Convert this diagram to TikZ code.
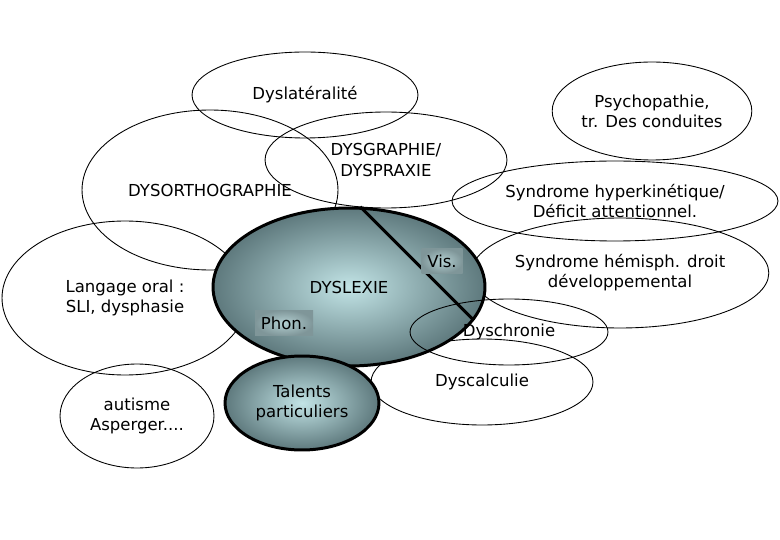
\documentclass[tikz,border=0pt]{standalone}
\usepackage{fontspec}
\setmainfont{DejaVu Sans}
\usetikzlibrary{shapes.geometric}
\definecolor{coreout}{HTML}{5E797D}
\definecolor{corein}{HTML}{C2E4E6}
\definecolor{tagout}{HTML}{7F9699}
\definecolor{tagin}{HTML}{B3CFD1}
\tikzset{
  ring/.style={ellipse,draw,line width=0.5pt,inner sep=0pt,align=center},
  core/.style={ellipse,draw,line width=1.7pt,inner sep=0pt,align=center,inner color=corein,outer color=coreout},
  tag/.style={rectangle,inner sep=0pt,inner color=tagin,outer color=tagout}
}
\begin{document}
\begin{tikzpicture}[x=0.02cm,y=-0.02cm,font=\fontsize{9.4}{11.5}\selectfont]
\useasboundingbox (0,0) rectangle (780,540);
\node[ring,minimum width=4.52cm,minimum height=1.72cm] (latr) at (305,95) {Dyslatéralité};
\node[ring,minimum width=5.12cm,minimum height=3.2cm] (ortho) at (210,190) {DYSORTHOGRAPHIE};
\node[ring,minimum width=4.84cm,minimum height=1.92cm] (graph) at (386,160) {DYSGRAPHIE/\\DYSPRAXIE};
\node[ring,minimum width=3.12cm,minimum height=1.96cm] (psy) at (652,111) {Psychopathie,\\tr. Des conduites};
\node[ring,minimum width=6.52cm,minimum height=1.6cm] (hyper) at (615,201) {Syndrome hyperkinétique/\\Déficit attentionnel.};
\node[ring,minimum width=5.72cm,minimum height=2.2cm] (hemi) at (620,273) {Syndrome hémisph. droit\\développemental};
\node[ring,minimum width=4.44cm,minimum height=1.72cm] (calc) at (482,382) {Dyscalculie};
\node[ring,minimum width=4.92cm,minimum height=3.08cm] (lang) at (125,298) {Langage oral :\\SLI, dysphasie};
\node[ring,minimum width=3.08cm,minimum height=2.08cm] (aut) at (137,416) {autisme\\Asperger....};
% noyau
\node[core,minimum width=5.44cm,minimum height=3.16cm] (dys) at (349,287) {DYSLEXIE};
\node[ring,minimum width=3.96cm,minimum height=1.32cm] (chron) at (509,332) {Dyschronie};
\node[core,minimum width=3.08cm,minimum height=1.88cm] (tal) at (302,403) {Talents\\particuliers};
\draw[line width=1.7pt] (dys.82) -- (dys.-15);
\node[tag,minimum width=0.82cm,minimum height=0.5cm] (vis) at (442,261) {Vis.};
\node[tag,minimum width=1.16cm,minimum height=0.52cm] (phon) at (284,323) {Phon.};
\end{tikzpicture}
\end{document}
